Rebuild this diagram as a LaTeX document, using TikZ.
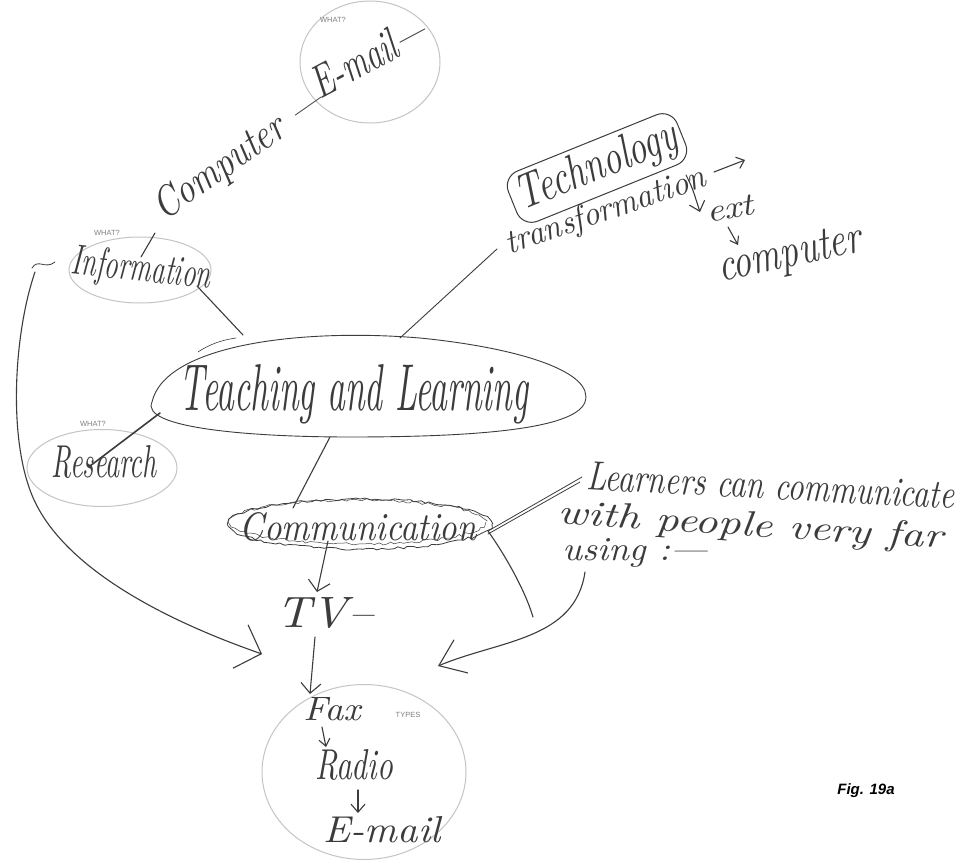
\documentclass[tikz,border=0pt]{standalone}
\usepackage{fontspec}
\usepackage{graphicx}
\newfontfamily\labfont{Liberation Sans}
\usetikzlibrary{shapes.geometric,decorations.pathmorphing,arrows.meta}
\definecolor{ink}{HTML}{3C3C3C}
\definecolor{faint}{HTML}{C4C4C4}
\definecolor{lab}{HTML}{808080}
\newcommand\hwtext[3]{\resizebox{#1pt}{#2pt}{\itshape #3}}
\begin{document}
\begin{tikzpicture}[x=1pt,y=-1pt,
  hw/.style={text=ink, inner sep=0pt},
  bubble/.style={ellipse, draw=faint, line width=1pt, inner sep=0pt},
  whatlbl/.style={font=\labfont\fontsize{7.5}{8}\selectfont, text=lab, inner sep=0pt},
  pen/.style={draw=ink, line width=1.1pt, line cap=round, line join=round},
  vtip/.style 2 args={-{Straight Barb[length=#1,width=#2]}},
]
\fill[white] (0,0) rectangle (964,867);
\useasboundingbox (0,0) rectangle (964,867);

% ---------- top E-mail bubble ----------
\node[bubble, minimum width=140, minimum height=122] (mailB) at (370,62) {};
\node[whatlbl] (w1) at (333,20) {WHAT?};
\node[hw, rotate=35] (comp) at (240,155) {\hwtext{200}{30}{Computer —}};
\node[hw, rotate=28] (mail) at (368,56) {\hwtext{125}{32}{E-mail—}};

% ---------- Information ----------
\node[bubble, minimum width=142, minimum height=66] (infoB) at (140,270) {};
\node[whatlbl] (w2) at (107,233) {WHAT?};
\node[hw, rotate=-6, anchor=base] (info) at (140,281) {\hwtext{140}{30}{Information}};
\coordinate (tickA) at (155,233);
\coordinate (tickB) at (141,257);
\draw[pen] (tickA) -- (tickB);

% ---------- Research ----------
\node[bubble, minimum width=150, minimum height=77] (resB) at (102,468) {};
\node[whatlbl] (w3) at (93,424) {WHAT?};
\node[hw, anchor=base] (res) at (104,477) {\hwtext{105}{32}{Research}};

% ---------- Teaching and Learning ----------
\draw[pen, line width=0.9pt] (152,402) .. controls (165,345) and (300,328) .. (420,338)
   .. controls (520,348) and (595,372) .. (585,402)
   .. controls (575,430) and (470,437) .. (350,437)
   .. controls (250,437) and (140,428) .. cycle;
\draw[ink, line width=0.6pt] (198,352) .. controls (210,344) and (222,340) .. (236,338);
\node[hw, anchor=base] (tl) at (354,410) {\hwtext{348}{46}{Teaching and Learning}};
\coordinate (tlTopL) at (243,335);
\coordinate (tlTopR) at (400,338);
\coordinate (tlLeft) at (160,413);
\coordinate (tlBot) at (330,437);

% ---------- Technology ----------
\node[hw, draw=ink, line width=1pt, rounded corners=16pt, inner xsep=6pt, inner ysep=5pt, rotate=22]
   (tech) at (597,168) {\hwtext{170}{34}{Technology}};
\node[hw, rotate=19] (trans) at (606,212) {\hwtext{210}{24}{transformation}};
\coordinate (transL) at (497,249);
\coordinate (rarA) at (714,172);
\coordinate (rarB) at (745,160);
\coordinate (darA) at (686,175);
\coordinate (darB) at (700,212);
\node[hw, rotate=10] (ext) at (730,209) {\hwtext{48}{20}{ext}};
\coordinate (sarA) at (728,227);
\coordinate (sarB) at (738,245);
\node[hw, rotate=12] (compR) at (790,256) {\hwtext{145}{30}{computer}};

% ---------- Communication ----------
\draw[pen, line width=0.8pt, decorate, decoration={random steps, segment length=5pt, amplitude=1.3pt}]
   (360,524) ellipse [x radius=132, y radius=25];
\draw[ink, line width=0.5pt, decorate, decoration={random steps, segment length=4pt, amplitude=1.5pt}]
   (358,522) ellipse [x radius=128, y radius=22];
\node[hw, anchor=base] (comm) at (358,540) {\hwtext{237}{28}{Communication}};
\coordinate (commTop) at (293,508);
\coordinate (commR) at (488,531);
\coordinate (commDown) at (328,541);
\coordinate (commCurve) at (533,617);

% ---------- Learners text ----------
\node[hw, rotate=-3, anchor=base] (ln1) at (770,499) {\hwtext{368}{28}{Learners can communicate}};
\node[hw, rotate=-3.6, anchor=base] (ln2) at (750,536) {\hwtext{385}{25}{with people very far}};
\node[hw, anchor=base] (ln3) at (635,560) {\hwtext{145}{22}{using :—}};
\coordinate (lnA) at (582,477);
\coordinate (lnB) at (580,482);
\coordinate (useA) at (585,572);
\coordinate (useB) at (438,666);

% ---------- TV ----------
\node[hw, anchor=base] (tv) at (325,627) {\hwtext{96}{30}{TV–}};
\coordinate (tvTop) at (317,592);
\coordinate (tvBot) at (315,637);

% ---------- TYPES bubble ----------
\node[bubble, minimum width=204, minimum height=175] (typesB) at (364,772) {};
\node[whatlbl] (w4) at (408,715) {TYPES};
\node[hw, anchor=base] (fax) at (332,720) {\hwtext{57}{23}{Fax}};
\node[hw, anchor=base] (radio) at (354,779) {\hwtext{78}{30}{Radio}};
\node[hw, anchor=base] (mail2) at (382,842) {\hwtext{117}{26}{E-mail}};
\coordinate (faxTop) at (310,694);
\coordinate (faxA) at (322,727);
\coordinate (faxB) at (326,747);
\coordinate (radA) at (358,790);
\coordinate (radB) at (358,813);

% ---------- left loop ----------
\coordinate (loopS) at (35,272);
\coordinate (loopE) at (262,654);
\draw[pen, line width=0.8pt] (32,268) .. controls (38,258) and (45,270) .. (55,262);

% ---------- figure label ----------
\node[font=\labfont\bfseries\itshape\fontsize{15}{16}\selectfont, text=black, inner sep=0pt] (fig) at (866,791) {Fig. 19a};

% ---------- connectors ----------
\draw[pen] (197,286) -- (tlTopL);
\draw[pen, line width=1.6pt] (90,466) -- (tlLeft);
\draw[pen, line width=0.9pt] (tlTopR) -- (transL);
\draw[pen] (tlBot) -- (commTop);
\draw[pen, vtip={7pt}{12pt}] (rarA) -- (rarB);
\draw[pen, vtip={9pt}{16pt}] (darA) .. controls (692,187) .. (darB);
\draw[pen, vtip={7pt}{10pt}] (sarA) -- (sarB);
\draw[pen, line width=0.8pt] (commR) -- (lnA);
\draw[pen, line width=0.8pt] ([yshift=-3pt]commR) -- (lnB);
\draw[pen] (commR) .. controls (505,555) and (525,590) .. (commCurve);
\draw[pen, vtip={10pt}{22pt}] (commDown) -- (tvTop);
\draw[pen, vtip={10pt}{20pt}] (tvBot) -- (faxTop);
\draw[pen, vtip={7pt}{11pt}] (faxA) -- (faxB);
\draw[pen, vtip={8pt}{14pt}] (radA) -- (radB);
\draw[pen, vtip={24pt}{36pt}] (useA) .. controls (575,640) and (500,640) .. (useB);
\draw[pen, vtip={22pt}{46pt}] (loopS) .. controls (15,330) and (8,430) .. (30,490)
   .. controls (55,560) and (150,615) .. (loopE);
\end{tikzpicture}
\end{document}
